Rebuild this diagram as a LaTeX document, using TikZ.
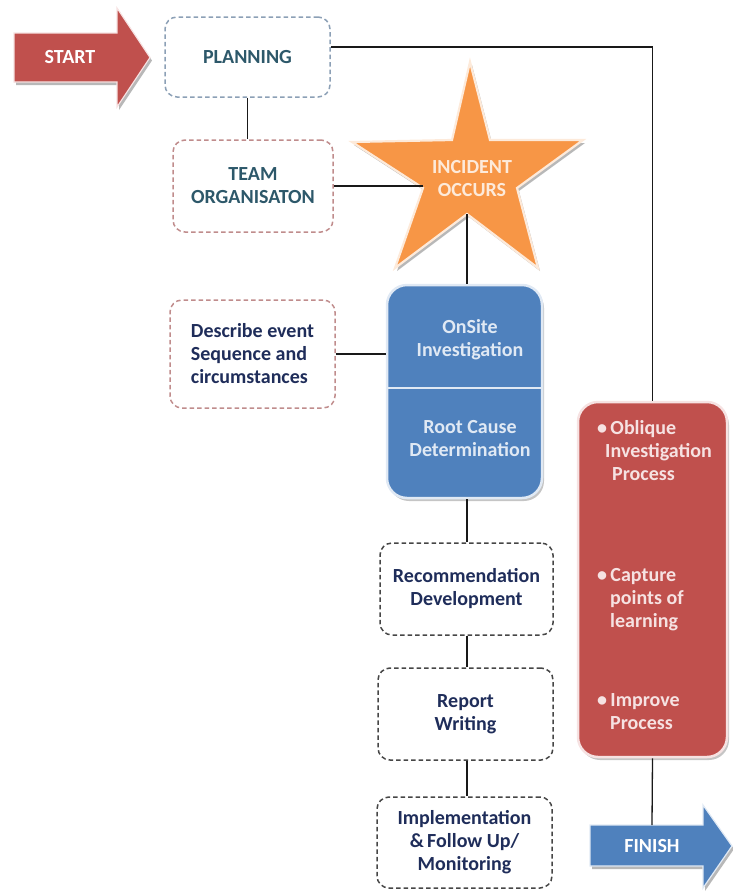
\documentclass[tikz,border=0pt]{standalone}
\usepackage{fontspec}
\setmainfont{Carlito}
\usetikzlibrary{shadows}
\definecolor{cred}{RGB}{192,80,77}
\definecolor{cblue}{RGB}{79,129,189}
\definecolor{corange}{RGB}{247,150,70}
\definecolor{cteal}{RGB}{45,88,106}
\definecolor{cnavy}{RGB}{31,45,90}
\definecolor{cbordblue}{RGB}{140,160,182}
\definecolor{cbordred}{RGB}{192,140,140}
\definecolor{cborddark}{RGB}{70,70,70}
\definecolor{clightred}{RGB}{246,226,226}
\definecolor{clightblue}{RGB}{224,233,244}
\definecolor{ccream}{RGB}{253,234,218}
\begin{document}
\begin{tikzpicture}[x=1pt,y=-1pt,
  txt/.style={font=\bfseries\fontsize{20}{23}\selectfont, align=center, inner sep=0pt},
  dbox/.style={draw, dash pattern=on 4.5pt off 3pt, line width=1.5pt, rounded corners=12pt, fill=white, inner sep=0pt},
  conn/.style={draw=black!90, line width=1.3pt},
  shade/.style={fill=black!28},
]
\useasboundingbox (0,0) rectangle (732,895);

% START arrow
\fill[shade] [shift={(2,3)}] (14,33) -- (117,33) -- (117,8) -- (150,57.5) -- (117,107) -- (117,82) -- (14,82) -- cycle;
\draw[fill=cred, draw=clightred, line width=1.2pt] (14,33) -- (117,33) -- (117,8) -- (150,57.5) -- (117,107) -- (117,82) -- (14,82) -- cycle;
\node[txt, text=white] (start) at (70,57) {START};

% FINISH arrow
\fill[shade] [shift={(2,3)}] (590,825) -- (703,825) -- (703,805) -- (732,846) -- (703,888) -- (703,866) -- (590,866) -- cycle;
\draw[fill=cblue, draw=clightblue, line width=1.2pt] (590,825) -- (703,825) -- (703,805) -- (732,846) -- (703,888) -- (703,866) -- (590,866) -- cycle;
\node[txt, text=white] (finish) at (652,846) {FINISH};
\coordinate (fintop) at (652,825);

% dashed boxes
\node[dbox, draw=cbordblue, text=cteal, minimum width=165pt, minimum height=80pt, txt] (planning) at (247.5,57) {PLANNING};
\node[dbox, draw=cbordred, text=cteal, minimum width=160pt, minimum height=92pt, txt] (team) at (253,186) {TEAM\\ORGANISATON};
\node[dbox, draw=cbordred, text=cnavy, minimum width=165pt, minimum height=108pt, txt, align=left] (describe) at (252.5,354) {Describe event\\Sequence and\\circumstances};
\node[dbox, draw=cborddark, text=cnavy, minimum width=173pt, minimum height=92pt, txt] (rec) at (466.5,589) {Recommendation\\Development};
\node[dbox, draw=cborddark, text=cnavy, minimum width=175pt, minimum height=92pt, txt] (report) at (465.5,714) {Report\\Writing};
\node[dbox, draw=cborddark, text=cnavy, minimum width=175pt, minimum height=91pt, txt] (impl) at (464.5,842.5) {Implementation\\\&\,Follow Up/\\Monitoring};

% star
\fill[shade] [shift={(2,3)}] (470,62) -- (490,140) -- (583,140) -- (517,188) -- (538,268) -- (467,214) -- (395,268) -- (423,188) -- (352,142) -- (452,140) -- cycle;
\draw[fill=corange, draw=ccream, line width=2.2pt, line join=miter] (470,62) -- (490,140) -- (583,140) -- (517,188) -- (538,268) -- (467,214) -- (395,268) -- (423,188) -- (352,142) -- (452,140) -- cycle;
\node[txt, text=ccream] (star) at (472,178.5) {INCIDENT\\OCCURS};
\coordinate (starL) at (423,188);
\coordinate (starB) at (467,214);

% blue box
\node[draw=clightblue, fill=cblue, line width=2.5pt, rounded corners=20pt, minimum width=155pt, minimum height=213pt, inner sep=0pt,
      drop shadow={fill=black!45, opacity=0.5, shadow xshift=2pt, shadow yshift=-3pt}] (blue) at (464.5,391.5) {};
\coordinate (div) at (464.5,388);
\draw[clightblue, line width=2.5pt] (blue.west |- div) -- (blue.east |- div);
\node[txt, text=clightblue] (onsite) at (470,340) {OnSite\\Investigation};
\node[txt, text=clightblue] (rootc) at (470,438.5) {Root Cause\\Determination};

% red box
\node[draw=clightred, fill=cred, line width=2.5pt, rounded corners=20pt, minimum width=149pt, minimum height=355pt, inner sep=0pt,
      drop shadow={fill=black!45, opacity=0.5, shadow xshift=2pt, shadow yshift=-3pt}] (red) at (652.5,579.5) {};
\node[txt, text=clightred, align=left, anchor=west] (b1) at (597,450.5) {\textbullet\,Oblique\\\hspace*{8pt}Investigation\\\hspace*{15pt}Process};
\node[txt, text=clightred, align=left, anchor=west] (b2) at (597,599.5) {\textbullet\,Capture\\\hspace*{13pt}points of\\\hspace*{13pt}learning};
\node[txt, text=clightred, align=left, anchor=west] (b3) at (597,711.5) {\textbullet\,Improve\\\hspace*{13pt}Process};

% connectors
\draw[conn] ([yshift=10pt]planning.east) -| (red.north);
\draw[conn] (planning.south) -- (planning.south |- team.north);
\draw[conn] (team.east) -- (team.east -| starL);
\draw[conn] (starB) -- (starB |- blue.north);
\draw[conn] (describe.east) -- (describe.east -| blue.west);
\draw[conn] (blue.south -| starB) -- (starB |- rec.north);
\draw[conn] (rec.south -| starB) -- (starB |- report.north);
\draw[conn] (report.south -| starB) -- (starB |- impl.north);
\draw[conn] (red.south) -- (fintop);
\end{tikzpicture}
\end{document}
